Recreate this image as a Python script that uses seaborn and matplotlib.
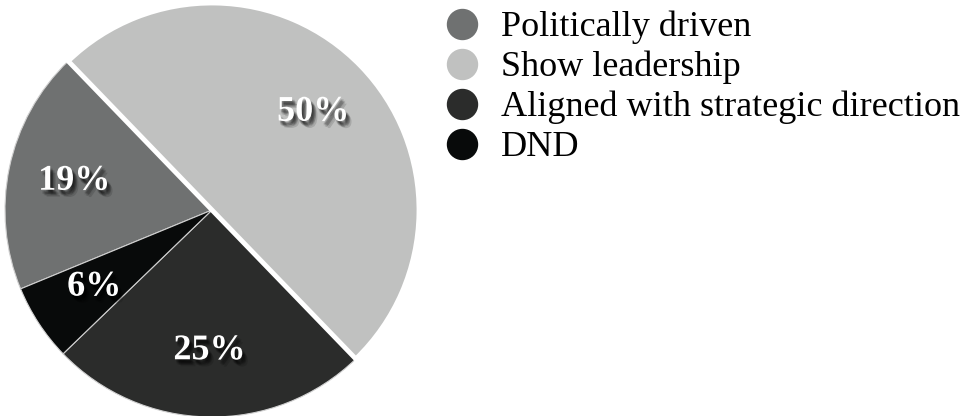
import matplotlib
matplotlib.use("Agg")
import matplotlib.pyplot as plt
import matplotlib.patheffects as pe
from matplotlib.lines import Line2D
import seaborn as sns

categories = ["Politically driven", "Show leadership", "Aligned with strategic direction", "DND"]
values = [19, 50, 25, 6]
colors = ["#6f7171", "#c0c1c0", "#2b2c2b", "#080a0a"]

sns.set_theme(style="white")
plt.rcParams["font.family"] = ["Liberation Serif", "DejaVu Serif"]
plt.rcParams["text.color"] = "black"

fig = plt.figure(figsize=(9.67, 4.16), dpi=100)
ax = fig.add_axes([5 / 967, -1 / 416, 414 / 967, 414 / 416])

wedges, texts, autotexts = ax.pie(
    values, colors=colors, startangle=202.4, counterclock=False,
    autopct=lambda p: f"{p:.0f}%", pctdistance=0.68, radius=1.0,
    wedgeprops=dict(edgecolor="#d0d0d0", linewidth=0.8),
    textprops=dict(color="white", fontsize=26, fontweight="bold"),
)
wedges[1].set_edgecolor("white")
wedges[1].set_linewidth(3.5)
wedges[1].set_zorder(3)

effects = [pe.SimplePatchShadow(offset=(dx, dy), shadow_rgbFace="black", alpha=0.13)
           for dx, dy in [(1, -2), (2, -3), (3, -4), (2, -2), (1, -3), (3, -3), (4, -5), (2, -4)]]
effects.append(pe.Normal())
for t in autotexts:
    t.set_path_effects(effects)
    t.set_zorder(5)
ax.set_xlim(-1, 1)
ax.set_ylim(-1, 1)
ax.set_aspect("equal")
ax.axis("off")

handles = [Line2D([], [], marker="o", linestyle="none", markersize=21.6,
                  markerfacecolor=c, markeredgecolor=c) for c in colors]
fig.legend(handles, categories, loc="upper left", bbox_to_anchor=(440 / 967, 1 - 11 / 416),
           frameon=False, fontsize=26, labelspacing=0.18, handletextpad=0.5,
           handlelength=1.2, borderpad=0.0, borderaxespad=0.0, labelcolor="black")

fig.savefig("out.png", dpi=100)
